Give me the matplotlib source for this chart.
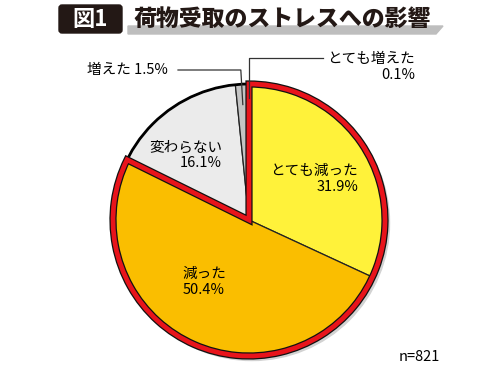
import numpy as np
import matplotlib
matplotlib.use('Agg')
import matplotlib.pyplot as plt
from matplotlib.patches import Wedge, Circle, FancyBboxPatch, Polygon

plt.rcParams['font.family'] = ['Noto Sans CJK JP', 'DejaVu Sans']

# data
labels = ['とても減った', '減った', '変わらない', '増えた', 'とても増えた']
values = [31.9, 50.4, 16.1, 1.5, 0.1]
colors = ['#FFF23A', '#FABE00', '#EBEBEB', '#C4C4C4', '#9A9A9A']
title = '荷物受取のストレスへの影響'
fig_no = '図1'
n_text = 'n=821'

fig = plt.figure(figsize=(5, 3.75), dpi=100)
ax = fig.add_axes([0, 0, 1, 1])

cx, cy, R = 249, 155, 136

# drop shadow
ax.add_patch(Circle((cx + 3, cy - 3), R + 1.5, color='#D2D2D2', zorder=0))

wedges, _ = ax.pie(values, colors=colors, startangle=90, counterclock=False,
                   center=(cx, cy), radius=R,
                   wedgeprops=dict(edgecolor='#222222', linewidth=0.9))
for w in wedges:
    w.set_zorder(1)

# thick black outer rim
ax.add_patch(Circle((cx, cy), R, fill=False, edgecolor='black', lw=2, zorder=2))

# red outline around the "decreased" group
frac = sum(values[:2]) / sum(values)
t1 = 90 - 360 * frac
ax.add_patch(Wedge((cx, cy), R, t1, 90, fill=False, edgecolor='#111111',
                   lw=5.2, joinstyle='miter', zorder=3))
ax.add_patch(Wedge((cx, cy), R, t1, 90, fill=False, edgecolor='#E8141B',
                   lw=3.4, joinstyle='miter', zorder=4))

fs = 10.5
ax.text(358, 375 - 179, 'とても減った\n31.9%', ha='right', va='center',
        multialignment='right', fontsize=fs, linespacing=1.15, zorder=5)
ax.text(204, 375 - 282, '減った\n50.4%', ha='center', va='center',
        multialignment='center', fontsize=fs, linespacing=1.15, zorder=5)
ax.text(222, 375 - 155, '変わらない\n16.1%', ha='right', va='center',
        multialignment='right', fontsize=fs, linespacing=1.15, zorder=5)

# leader lines from slice mid-angles
cum = np.cumsum([0] + values)
def anchor(i, rr):
    a = np.deg2rad(90 - 360 * (cum[i] + cum[i + 1]) / 2 / sum(values))
    return cx + rr * R * np.cos(a), cy + rr * R * np.sin(a)

ax3, ay3 = anchor(3, 0.85)
ax.plot([178, ax3 - 2, ax3], [305, 305, ay3], color='#333333', lw=0.9, zorder=6)
ax.text(87, 305, f'{labels[3]} {values[3]}%', ha='left', va='center', fontsize=fs)

ax4, ay4 = anchor(4, 0.9)
ax.plot([323, ax4, ax4], [317, 317, ay4], color='#333333', lw=0.9, zorder=6)
ax.text(415, 308, f'{labels[4]}\n{values[4]}%', ha='right', va='center',
        multialignment='right', fontsize=fs, linespacing=1.1)

ax.text(440, 375 - 357, n_text, ha='right', va='center', fontsize=fs)

# title
ax.add_patch(Polygon([[128, 349], [443, 349], [436, 341], [128, 341]],
                     closed=True, color='#BEBEBE', zorder=1))
ax.add_patch(FancyBboxPatch((59, 342), 63, 28, boxstyle='round,pad=0,rounding_size=3',
                            color='#231815', zorder=2))
ax.text(90.5, 356, fig_no, ha='center', va='center', color='white',
        fontsize=16, fontweight='bold', zorder=3)
ax.text(133, 356, title, ha='left', va='center', color='#231815',
        fontsize=16.5, fontweight='heavy', zorder=3)

ax.set_xlim(0, 500)
ax.set_ylim(0, 375)
ax.set_aspect('auto')
ax.axis('off')

fig.savefig('out.png', dpi=100, facecolor='white')
